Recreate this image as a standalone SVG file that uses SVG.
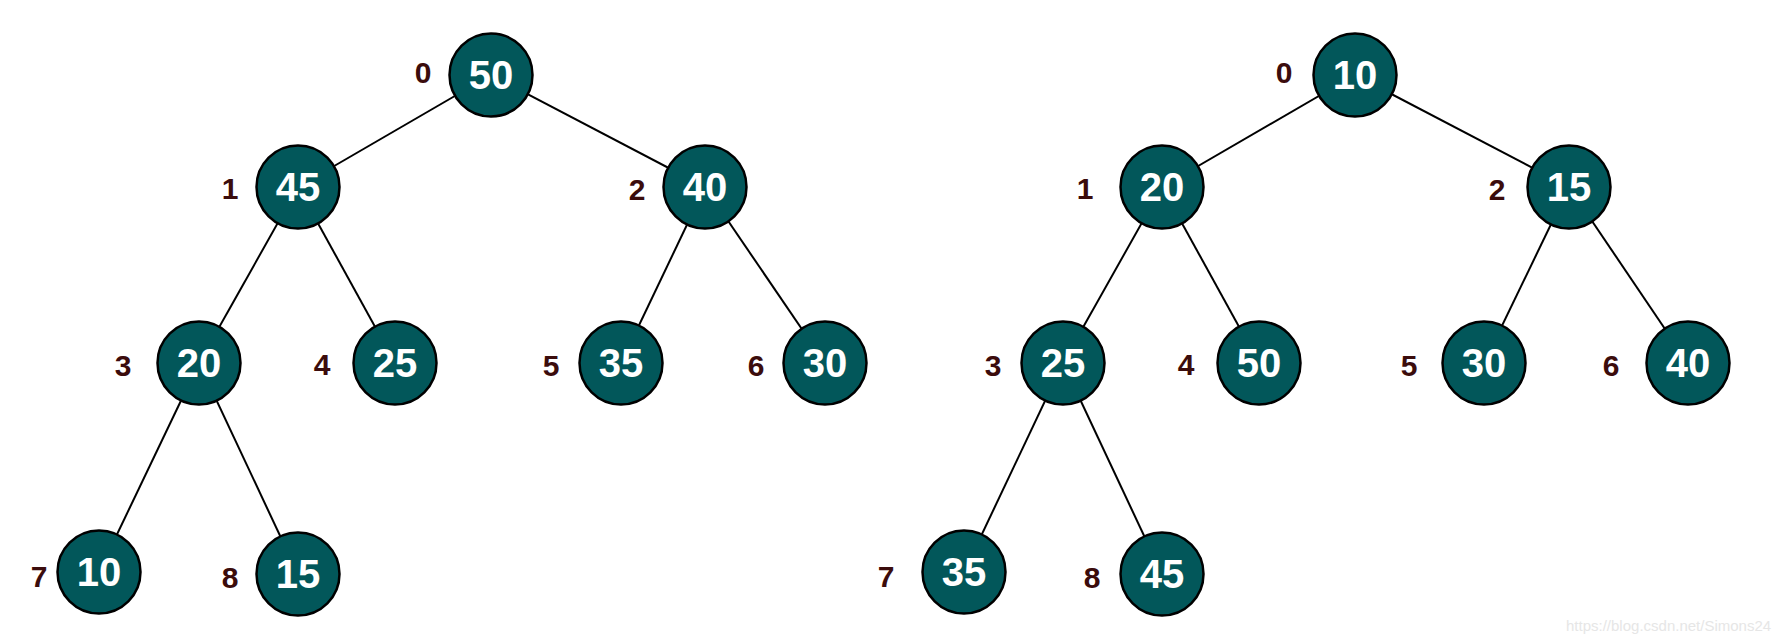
<svg xmlns="http://www.w3.org/2000/svg" width="1791" height="644" viewBox="0 0 1791 644">
<style>
.n circle{fill:#02575A;stroke:#000;stroke-width:2.5}
.n text{font-family:"Liberation Sans",Arial,sans-serif;font-weight:bold;font-size:40px;fill:#fff;text-anchor:middle}
.idx{font-family:"Liberation Sans",Arial,sans-serif;font-weight:bold;font-size:30px;fill:#3b0c0c;text-anchor:middle}
.e line{stroke:#000;stroke-width:2}
.wm{font-family:"Liberation Sans",Arial,sans-serif;font-size:15px;fill:#e6e6e6}
</style>
<rect width="1791" height="644" fill="#fff"/>
<g id="connectors" class="e">
<line x1="491" y1="75" x2="298" y2="187"/>
<line x1="491" y1="75" x2="705" y2="187"/>
<line x1="298" y1="187" x2="199" y2="363"/>
<line x1="298" y1="187" x2="395" y2="363"/>
<line x1="705" y1="187" x2="621" y2="363"/>
<line x1="705" y1="187" x2="825" y2="363"/>
<line x1="199" y1="363" x2="99" y2="572"/>
<line x1="199" y1="363" x2="298" y2="574"/>
<line x1="1355" y1="75" x2="1162" y2="187"/>
<line x1="1355" y1="75" x2="1569" y2="187"/>
<line x1="1162" y1="187" x2="1063" y2="363"/>
<line x1="1162" y1="187" x2="1259" y2="363"/>
<line x1="1569" y1="187" x2="1484" y2="363"/>
<line x1="1569" y1="187" x2="1688" y2="363"/>
<line x1="1063" y1="363" x2="964" y2="572"/>
<line x1="1063" y1="363" x2="1162" y2="574"/>
</g>
<g id="L0" class="n"><circle cx="491" cy="75" r="41.5"/><text x="491" y="89">50</text></g>
<g id="L1" class="n"><circle cx="298" cy="187" r="41.5"/><text x="298" y="201">45</text></g>
<g id="L2" class="n"><circle cx="705" cy="187" r="41.5"/><text x="705" y="201">40</text></g>
<g id="L3" class="n"><circle cx="199" cy="363" r="41.5"/><text x="199" y="377">20</text></g>
<g id="L4" class="n"><circle cx="395" cy="363" r="41.5"/><text x="395" y="377">25</text></g>
<g id="L5" class="n"><circle cx="621" cy="363" r="41.5"/><text x="621" y="377">35</text></g>
<g id="L6" class="n"><circle cx="825" cy="363" r="41.5"/><text x="825" y="377">30</text></g>
<g id="L7" class="n"><circle cx="99" cy="572" r="41.5"/><text x="99" y="586">10</text></g>
<g id="L8" class="n"><circle cx="298" cy="574" r="41.5"/><text x="298" y="588">15</text></g>
<g id="R0" class="n"><circle cx="1355" cy="75" r="41.5"/><text x="1355" y="89">10</text></g>
<g id="R1" class="n"><circle cx="1162" cy="187" r="41.5"/><text x="1162" y="201">20</text></g>
<g id="R2" class="n"><circle cx="1569" cy="187" r="41.5"/><text x="1569" y="201">15</text></g>
<g id="R3" class="n"><circle cx="1063" cy="363" r="41.5"/><text x="1063" y="377">25</text></g>
<g id="R4" class="n"><circle cx="1259" cy="363" r="41.5"/><text x="1259" y="377">50</text></g>
<g id="R5" class="n"><circle cx="1484" cy="363" r="41.5"/><text x="1484" y="377">30</text></g>
<g id="R6" class="n"><circle cx="1688" cy="363" r="41.5"/><text x="1688" y="377">40</text></g>
<g id="R7" class="n"><circle cx="964" cy="572" r="41.5"/><text x="964" y="586">35</text></g>
<g id="R8" class="n"><circle cx="1162" cy="574" r="41.5"/><text x="1162" y="588">45</text></g>
<g id="indices">
<text class="idx" x="423" y="83">0</text>
<text class="idx" x="230" y="199">1</text>
<text class="idx" x="637" y="200">2</text>
<text class="idx" x="123" y="376">3</text>
<text class="idx" x="322" y="375">4</text>
<text class="idx" x="551" y="376">5</text>
<text class="idx" x="756" y="376">6</text>
<text class="idx" x="39" y="587">7</text>
<text class="idx" x="230" y="588">8</text>
<text class="idx" x="1284" y="83">0</text>
<text class="idx" x="1085" y="199">1</text>
<text class="idx" x="1497" y="200">2</text>
<text class="idx" x="993" y="376">3</text>
<text class="idx" x="1186" y="375">4</text>
<text class="idx" x="1409" y="376">5</text>
<text class="idx" x="1611" y="376">6</text>
<text class="idx" x="886" y="587">7</text>
<text class="idx" x="1092" y="588">8</text>
</g>
<text class="wm" x="1566" y="631">https://blog.csdn.net/Simons24</text>
</svg>
